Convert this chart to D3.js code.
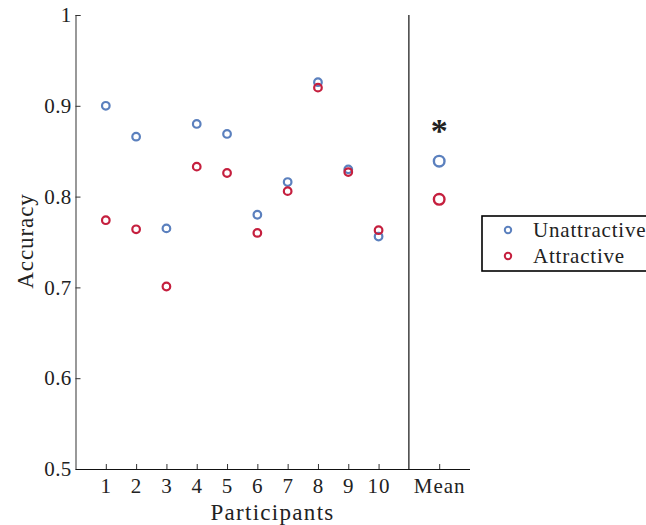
<!DOCTYPE html>
<html>
<head>
<meta charset="utf-8">
<script src="https://cdn.jsdelivr.net/npm/d3@7"></script>
<style>
  body { margin: 0; background: #fff; }
  svg text { font-family: "Liberation Serif", "DejaVu Serif", serif; fill: #222; }
</style>
</head>
<body>
<div id="chart"></div>
<script>
// values
var participants = ["1", "2", "3", "4", "5", "6", "7", "8", "9", "10"];
var unattractive = [0.900, 0.866, 0.765, 0.880, 0.869, 0.780, 0.816, 0.926, 0.830, 0.756];
var attractive   = [0.774, 0.764, 0.701, 0.833, 0.826, 0.760, 0.806, 0.920, 0.827, 0.763];
var meanUnattractive = 0.839;
var meanAttractive = 0.797;
var yTicks = [0.5, 0.6, 0.7, 0.8, 0.9, 1];
var seriesNames = ["Unattractive", "Attractive"];
var colors = ["#5b80be", "#c51f3e"];

var W = 646, H = 525;
var serif = "'Liberation Serif', 'DejaVu Serif', serif";

var svg = d3.select("#chart")
  .append("svg")
  .attr("width", W)
  .attr("height", H);

// x positions: participants at 1..10, divider at 11, mean at 12
var x = d3.scaleLinear().domain([0, 13]).range([75.5, 469.5]);
var y = d3.scaleLinear().domain([0.5, 1]).range([469, 15]);

// y axis
var yAxis = svg.append("g")
  .attr("transform", "translate(" + x(0) + ",0)")
  .call(d3.axisRight(y).tickValues(yTicks).tickSize(5).tickFormat(function(d) { return d === 1 ? "1" : d3.format(".1f")(d); }));
yAxis.attr("font-family", serif);
yAxis.select(".domain").attr("stroke", "#555").attr("stroke-width", 1.2);
yAxis.selectAll(".tick line").attr("stroke", "#333");
yAxis.selectAll(".tick text")
  .attr("x", -4)
  .attr("text-anchor", "end")
  .style("font-size", "21px")
  .style("letter-spacing", "0.3px");

// x axis
var xTickVals = d3.range(1, 11).concat([12]);
var xLabels = participants.concat(["Mean"]);
var xAxis = svg.append("g")
  .attr("transform", "translate(0," + y(0.5) + ")")
  .call(d3.axisTop(x).tickValues(xTickVals).tickSize(5).tickSizeOuter(0)
    .tickFormat(function(d, i) { return xLabels[i]; }));
xAxis.attr("font-family", serif);
xAxis.select(".domain").attr("stroke", "#111").attr("stroke-width", 1.2);
xAxis.selectAll(".tick line").attr("stroke", "#333");
xAxis.selectAll(".tick text")
  .attr("y", 24)
  .style("font-size", "21px")
  .style("letter-spacing", "1px");

// divider between participants and mean
svg.append("line")
  .attr("x1", x(11)).attr("x2", x(11))
  .attr("y1", y(1)).attr("y2", y(0.5))
  .attr("stroke", "#111")
  .attr("stroke-width", 1.2);

// axis titles
svg.append("text")
  .attr("x", (x(0) + x(13)) / 2)
  .attr("y", 520)
  .attr("text-anchor", "middle")
  .attr("font-family", serif)
  .style("font-size", "23px")
  .style("letter-spacing", "1.3px")
  .text("Participants");

svg.append("text")
  .attr("transform", "translate(33,241) rotate(-90)")
  .attr("text-anchor", "middle")
  .attr("font-family", serif)
  .style("font-size", "23px")
  .style("letter-spacing", "0.9px")
  .text("Accuracy");

// points
var seriesData = [unattractive, attractive];
seriesData.forEach(function(vals, s) {
  svg.append("g").selectAll("circle")
    .data(vals)
    .enter().append("circle")
    .attr("cx", function(d, i) { return x(i + 1); })
    .attr("cy", function(d) { return y(d); })
    .attr("r", 3.8)
    .attr("fill", "none")
    .attr("stroke", colors[s])
    .attr("stroke-width", 2.2);
});

// means
[meanUnattractive, meanAttractive].forEach(function(m, s) {
  svg.append("circle")
    .attr("cx", x(12))
    .attr("cy", y(m))
    .attr("r", 5.3)
    .attr("fill", "none")
    .attr("stroke", colors[s])
    .attr("stroke-width", 2.4);
});

// significance star
svg.append("text")
  .attr("x", x(12))
  .attr("y", 142)
  .attr("text-anchor", "middle")
  .attr("font-family", serif)
  .style("font-size", "34px")
  .style("font-weight", "bold")
  .text("*");

// legend
var lg = svg.append("g").attr("transform", "translate(482,216)");
lg.append("rect")
  .attr("width", 180).attr("height", 55)
  .attr("fill", "#fff")
  .attr("stroke", "#000")
  .attr("stroke-width", 1.6);
seriesNames.forEach(function(name, i) {
  lg.append("circle")
    .attr("cx", 26).attr("cy", 14 + i * 26)
    .attr("r", 3.2)
    .attr("fill", "none")
    .attr("stroke", colors[i])
    .attr("stroke-width", 2);
  lg.append("text")
    .attr("x", 51).attr("y", 14 + i * 26)
    .attr("dy", "0.35em")
    .attr("font-family", serif)
    .style("font-size", "21px")
    .style("letter-spacing", "0.8px")
    .text(name);
});
</script>
</body>
</html>
